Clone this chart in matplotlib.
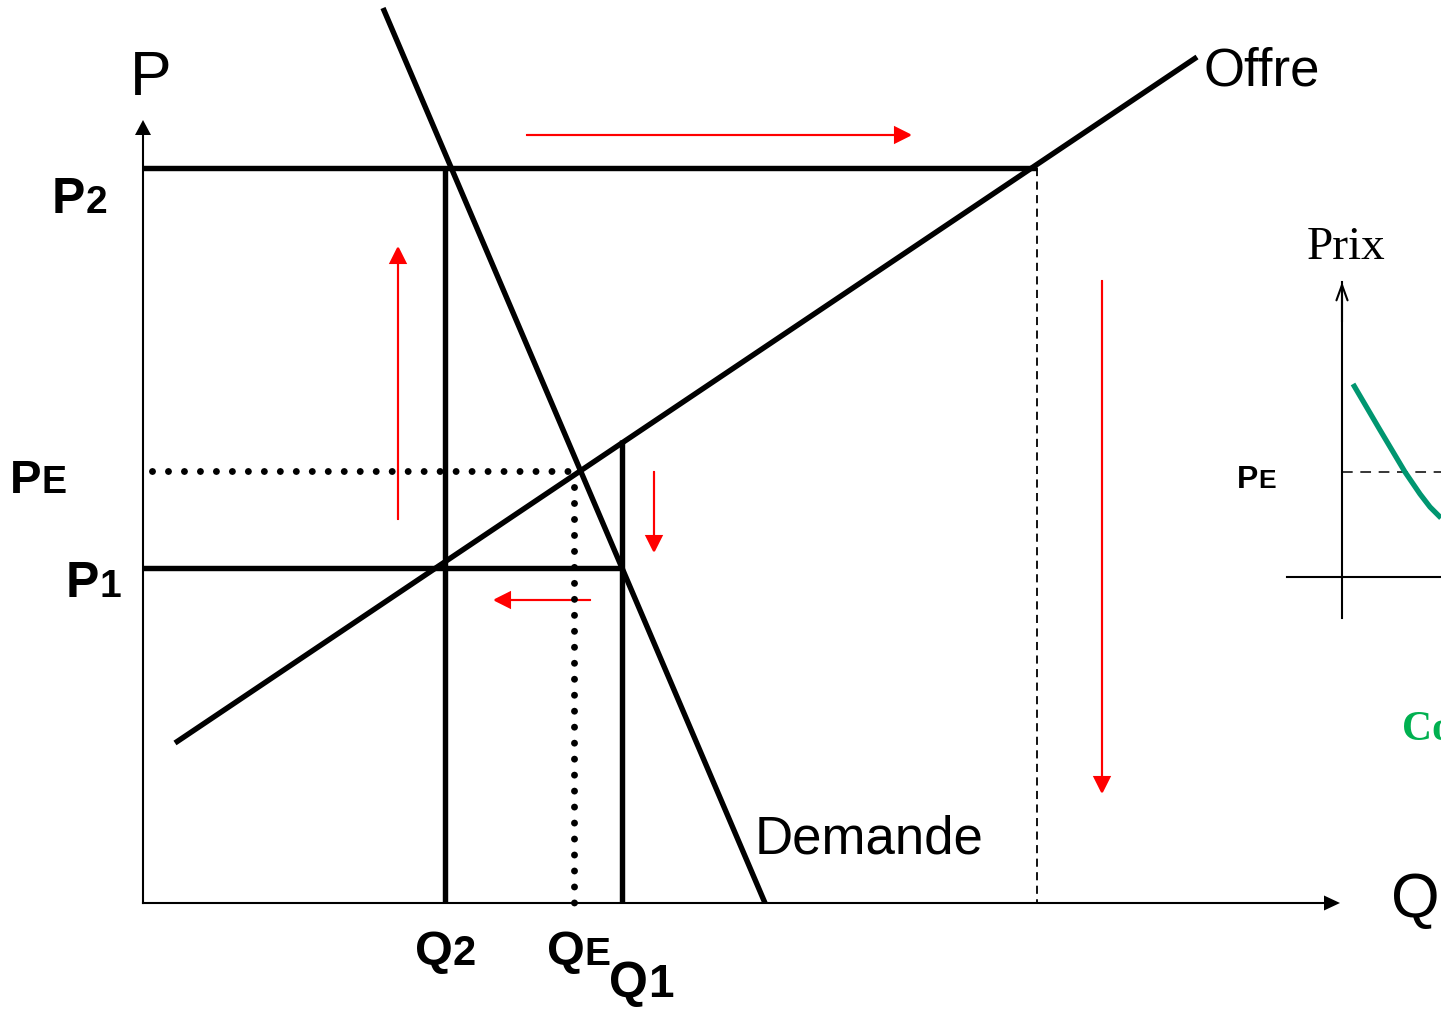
import matplotlib
matplotlib.use("Agg")
import matplotlib.pyplot as plt
import numpy as np

plt.rcParams['font.family'] = ['Liberation Sans', 'DejaVu Sans']

# --- diagram data (quantity q, price p; origin at the axes corner) ---
demand_q = [240, 622]
demand_p = [895, 0]
supply_q = [32, 1054]
supply_p = [160, 846]

price_levels = {'P2': 735, 'PE': 432, 'P1': 335}
qty_levels = {'Q2': 302, 'QE': 431, 'Q1': 479}
q_supplied_at_p2 = 894

# red adjustment arrows: (q start, p start, q end, p end)
red_arrows = [
    (384, 768, 767, 768),
    (255, 384, 255, 655),
    (959, 622, 959, 111),
    (511, 431, 511, 352),
    (447, 303, 352, 303),
]

# small inset on the right
inset_axis_q = 1199
inset_axis_p = [285, 621]
inset_base_p = 326
inset_base_q = [1144, 1298]
inset_pe = 431
curve_q = [1210, 1237, 1262, 1277, 1287, 1298]
curve_p = [519, 473, 431, 409, 396, 385]

fig = plt.figure(figsize=(14.41, 10.10), dpi=100)
ax = fig.add_axes([0, 0, 1, 1])
ax.set_xlim(-143, 1298)
ax.set_ylim(-107, 903)
ax.axis('off')

K = 'black'
thick = 3.9

# axes with filled arrowheads
ax.plot([0, 0], [0, 768], color=K, lw=1.5)
ax.arrow(0, 760, 0, 23, head_width=16, head_length=15, length_includes_head=True,
         fc=K, ec=K, lw=0)
ax.plot([0, 1183], [0, 0], color=K, lw=1.5)
ax.arrow(1175, 0, 22, 0, head_width=15, head_length=16, length_includes_head=True,
         fc=K, ec=K, lw=0)

# supply and demand
ax.plot(demand_q, demand_p, color=K, lw=thick, solid_capstyle='butt')
ax.plot(supply_q, supply_p, color=K, lw=thick, solid_capstyle='butt')

# P2 / Q2 ceiling lines
p2, pe, p1 = price_levels['P2'], price_levels['PE'], price_levels['P1']
q2, qe, q1 = qty_levels['Q2'], qty_levels['QE'], qty_levels['Q1']
ax.plot([0, q_supplied_at_p2], [p2, p2], color=K, lw=thick, solid_capstyle='butt')
ax.plot([q2, q2], [0, p2], color=K, lw=thick, solid_capstyle='butt')
ax.plot([0, q1], [p1, p1], color=K, lw=thick, solid_capstyle='butt')
q1_top = np.interp(q1, supply_q, supply_p) + 3
ax.plot([q1, q1], [0, q1_top], color=K, lw=thick, solid_capstyle='butt')

# equilibrium dotted lines
dot = (0, (0.001, 2.3))
ax.plot([9, qe + 4], [pe, pe], color=K, lw=5, linestyle=dot, dash_capstyle='round')
ax.plot([qe, qe], [pe - 16, 0], color=K, lw=5, linestyle=dot, dash_capstyle='round')

# thin dashed drop line
ax.plot([q_supplied_at_p2, q_supplied_at_p2], [p2, 0], color=K, lw=1.3,
        linestyle=(0, (4.5, 3)))

# red arrows
for x0, y0, x1, y1 in red_arrows:
    ax.arrow(x0, y0, x1 - x0, y1 - y0, head_width=15, head_length=15,
             length_includes_head=True, fc='#ff0000', ec='#ff0000', lw=1.5)

# axis titles and curve labels
ax.text(8, 808, 'P', fontsize=45, ha='center', va='baseline')
ax.text(1272, -14, 'Q', fontsize=45, ha='center', va='baseline')
ax.text(1060, 818, 'Offre', fontsize=38, ha='left', va='baseline')
ax.text(612, 50, 'Demande', fontsize=38, ha='left', va='baseline')


def sub_label(x, y, main, sub, size, sub_size):
    t = ax.text(x, y, main, fontsize=size, fontweight='bold', ha='left', va='baseline')
    ax.annotate(sub, xy=(1, y), xycoords=(t, 'data'), fontsize=sub_size,
                fontweight='bold', ha='left', va='baseline')


sub_label(-91, 690, 'P', '2', 36, 28)
sub_label(-133, 410, 'P', 'E', 34, 27)
sub_label(-77, 306, 'P', '1', 36, 28)
sub_label(272, -62, 'Q', '2', 35, 30)
sub_label(404, -62, 'Q', 'E', 35, 28)
sub_label(466, -94, 'Q', '1', 36, 33)

# inset
ax.text(1164, 644, 'Prix', fontsize=34, family='Liberation Serif', ha='left', va='baseline')
ax.plot([inset_axis_q, inset_axis_q], inset_axis_p, color=K, lw=1.5)
ax.annotate('', xy=(inset_axis_q, inset_axis_p[1]), xytext=(inset_axis_q, inset_axis_p[1] - 40),
            arrowprops=dict(arrowstyle='->,head_length=11,head_width=4', mutation_scale=1,
                            color=K, lw=1.5, shrinkA=0, shrinkB=0))
ax.plot(inset_base_q, [inset_base_p, inset_base_p], color=K, lw=1.5)
ax.plot([inset_axis_q, inset_base_q[1]], [inset_pe, inset_pe], color=K, lw=1.1,
        linestyle=(0, (7, 5)))
ax.plot(curve_q, curve_p, color='#009670', lw=3.8, solid_capstyle='butt')
sub_label(1094, 415, 'P', 'E', 23, 19)
ax.text(1259, 163, 'Co', fontsize=30, fontweight='bold', family='Liberation Serif',
        color='#00b050', ha='left', va='baseline')

fig.savefig('out.png', dpi=100)
